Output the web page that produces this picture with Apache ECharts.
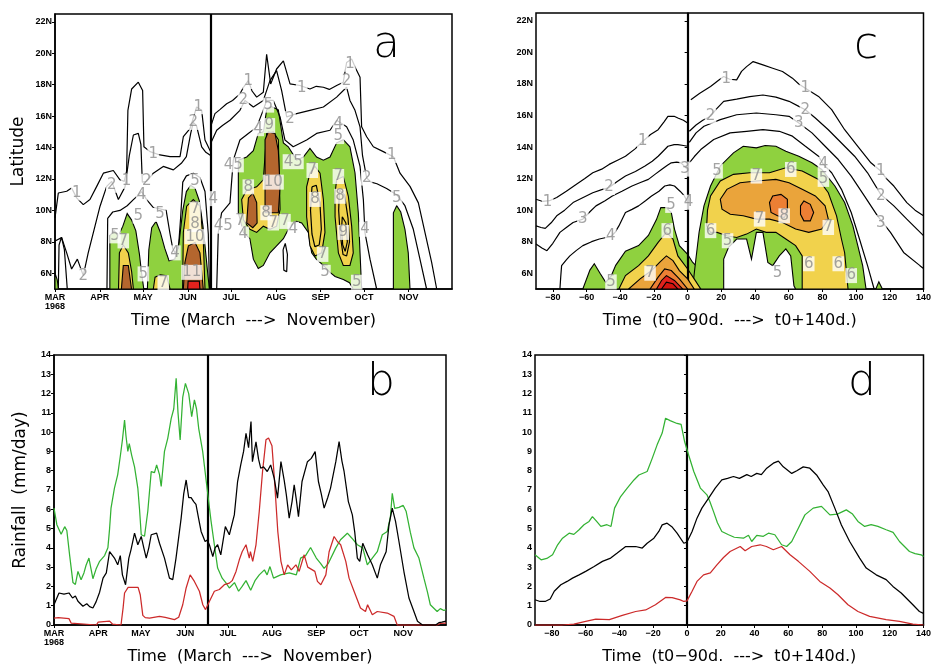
<!DOCTYPE html>
<html>
<head>
<meta charset="utf-8">
<script src="https://cdn.jsdelivr.net/npm/echarts@6/dist/echarts.min.js"></script>
<style>
html,body{margin:0;padding:0;background:#fff}
#main{width:934px;height:668px}
</style>
</head>
<body>
<div id="main"></div>
<script>
// ---------- axes ----------
const monthTicks = [0, 31, 61, 92, 122, 153, 184, 214, 245];      // days after 1 March
const monthNames = ['MAR\n1968', 'APR', 'MAY', 'JUN', 'JUL', 'AUG', 'SEP', 'OCT', 'NOV'];
const lagTicks = [-80, -60, -40, -20, 0, 20, 40, 60, 80, 100, 120, 140];
const latTicks = [6, 8, 10, 12, 14, 16, 18, 20, 22];
const onsetDay = 107.8;   // onset (16 June) in days after 1 March
const onsetLag = 0;

// ---------- panel b : daily rainfall 1968 [day, mm/day] ----------
const bGreen = [[0,6.06],[2,5.2],[5,4.7],[7.5,5.1],[9,4.9],[11,3.6],[13.3,2.2],[15,2.1],[16.8,2.78],[19,2.35],[21,2.7],[22.5,3.1],[24.5,3.47],[26,2.9],[27.3,2.4],[29.5,2.9],[32,3.3],[35.5,3.6],[37.8,4.0],[39,5.0],[40,6.06],[42.4,7.1],[44.7,7.8],[46.6,8.8],[48,9.6],[49.5,10.63],[50.5,9.8],[51.8,9.0],[52.8,9.4],[54.5,8.8],[56.5,8.2],[58.8,7.1],[60,6.0],[61.2,4.68],[63.5,4.6],[65.8,5.9],[68.2,7.95],[70.5,7.9],[72,8.3],[74,7.8],[75.2,7.18],[77.5,9.0],[79.8,9.68],[82.2,10.7],[84,11.2],[85.7,12.79],[87,11.0],[88.5,9.6],[90.3,11.8],[92.2,12.53],[94.5,12.0],[96.6,10.8],[98.5,11.67],[100,11.2],[101.5,10.2],[104.3,9.0],[107.1,7.27],[110.2,5.37],[112.5,4.16],[114.8,2.95],[118,2.43],[120.5,2.2],[123,1.92],[126.6,2.2],[129.5,1.75],[132,2.0],[134.7,2.3],[138,1.8],[141,2.3],[144,2.6],[147.6,2.86],[149.5,2.6],[151.5,3.03],[154,2.43],[159,2.6],[165,2.7],[170,2.6],[173,3.47],[176.5,3.6],[180,4.02],[184,3.47],[187,3.2],[189.5,2.94],[192.5,3.2],[197.7,4.0],[201,4.42],[205.8,4.76],[209,4.5],[212.8,4.16],[216.6,4.0],[219.8,3.12],[223.3,3.47],[226.8,3.8],[230.3,4.68],[233.8,4.85],[236,5.6],[237.3,6.83],[239,6.05],[242,6.1],[245,6.2],[247,5.9],[250,4.8],[252.5,4.0],[256,3.47],[259.5,2.43],[262,1.7],[264,1.05],[268.8,0.7],[271,0.85],[273.5,0.75],[275,0.8]];
const bBlack = [[0,1.05],[2,1.4],[3.5,1.66],[7,1.6],[10.5,1.66],[13,1.4],[15,1.5],[16.8,1.23],[20.3,0.97],[23,1.1],[25,0.95],[27.3,0.88],[29.5,1.2],[32,1.7],[34.4,2.43],[36.7,2.7],[39,3.81],[42.4,3.47],[44.7,3.12],[46.5,3.6],[48,2.6],[50.2,2.09],[52.5,3.47],[54,3.9],[56.5,4.76],[58.8,4.16],[61.2,4.59],[63,4.0],[64.7,3.47],[66.5,4.0],[68.2,4.68],[72,4.76],[74,4.24],[77.5,3.47],[81,2.43],[83.3,2.35],[85.6,3.47],[89.2,5.54],[91,6.8],[92.7,7.52],[94.5,6.6],[96.2,6.6],[98,6.4],[99.6,6.25],[101.5,5.5],[103.2,4.85],[106,4.33],[107.5,4.4],[109,4.16],[111.4,3.55],[113,4.0],[114.8,4.16],[117,3.64],[120.2,5.1],[123,4.68],[126.5,5.71],[128.8,7.44],[131,8.3],[133,9.0],[134.7,9.94],[136.5,9.2],[138.2,10.55],[139.2,8.47],[141.7,9.5],[143.5,8.6],[145,8.13],[147,8.2],[149.6,7.96],[152,8.3],[154.5,7.6],[156.8,6.58],[159.2,8.47],[161.5,7.5],[163,6.75],[165,5.54],[167,6.4],[168.5,7.27],[170,6.5],[171.5,5.62],[174,7.44],[177.8,8.47],[180.5,8.64],[183.2,8.99],[185.5,7.44],[187.5,6.8],[189.5,6.06],[192,6.6],[194,7.1],[197.7,8.47],[200,9.51],[202,8.5],[203.5,7.96],[206.5,6.4],[209.3,5.71],[211,4.8],[212.8,3.47],[214.5,3.3],[216.6,4.24],[220,3.64],[223.3,3.12],[226.8,2.43],[229,3.12],[233,3.8],[235,5.19],[237.3,6.06],[239.6,5.37],[242,4.33],[245.5,2.76],[249,1.4],[252.5,0.7],[255,0.19],[258.5,0],[267.7,0],[270,0.12],[272,0.15],[275,0.2]];
const bRed = [[0,0.36],[3,0.38],[10.5,0.33],[12,0.1],[13,0],[29.7,0],[31,0.15],[32,0.2],[39,0.2],[41,0.05],[42,0],[47,0],[48.5,0.9],[49.5,1.66],[52,1.95],[59,1.95],[60.5,1.57],[62.3,0.5],[64,0.38],[67,0.36],[74,0.45],[78,0.4],[84.5,0.28],[87.5,0.4],[90.3,1.05],[92.7,1.92],[95.5,2.6],[98.5,2.26],[102,1.75],[104.4,1.05],[106.3,0.8],[109,1.22],[112.5,1.75],[116,1.84],[119.5,2.09],[123,2.17],[125,2.3],[127.7,2.78],[130,3.38],[132,3.8],[134.7,4.16],[137,3.47],[137.8,3.8],[139.4,3.3],[141.7,4.16],[144,5.9],[146.3,7.96],[148.7,9.6],[150.5,9.7],[152.9,9.3],[154.6,7.6],[157,4.85],[159.2,3.3],[161.5,2.6],[163.9,3.12],[166.5,2.86],[169.7,3.12],[172,2.78],[175.5,3.64],[178,3.0],[183,2.78],[184.8,2.26],[187.2,2.09],[190.7,2.6],[193,3.8],[196.5,4.59],[198.8,4.33],[201.1,4.16],[204.7,3.3],[207,2.43],[210.5,1.75],[215,0.88],[218.5,0.7],[220,1.05],[223.3,0.53],[226.8,0.7],[233.8,0.62],[238.5,0.45],[240.8,0],[268.8,0],[271,0.08],[275,0.1]];

// ---------- panel d : composite relative to onset [lag day, mm/day] ----------
const dGreen = [[-90,3.64],[-86.4,3.38],[-83,3.45],[-79.6,3.64],[-76.6,4.16],[-73.7,4.5],[-69.8,4.76],[-67,4.7],[-63.9,4.94],[-61,5.2],[-58,5.37],[-56,5.62],[-53.5,5.37],[-51,5.11],[-47.4,5.2],[-45,5.11],[-42.9,6.06],[-39.3,6.66],[-35.4,7.1],[-31.4,7.52],[-28.5,7.78],[-23.6,7.96],[-20.6,8.64],[-17.7,9.34],[-14.7,9.95],[-12.7,10.72],[-10,10.6],[-5.9,10.45],[-3.5,10.4],[-1.4,9.5],[1,8.8],[4,7.96],[7.9,7.1],[11.8,6.75],[13.5,6.4],[15.7,5.88],[18,5.3],[20.6,4.85],[24.6,4.68],[28,4.55],[33.4,4.5],[36.4,4.65],[38.3,4.33],[41.3,4.65],[45.2,4.6],[48.2,4.76],[52,4.68],[56,4.16],[59,4.07],[62,4.33],[65.9,5.02],[69.8,5.71],[74.7,6.06],[79.6,6.15],[84.6,5.71],[89,5.75],[94.3,5.97],[98,5.75],[101.2,5.37],[105.2,5.11],[109,5.2],[113,5.11],[117.9,4.94],[122,4.8],[125.8,4.33],[131.7,3.81],[135,3.7],[138.6,3.64],[140,3.55]];
const dBlack = [[-90,1.31],[-87,1.22],[-84,1.22],[-81,1.35],[-78.6,1.75],[-74.7,2.09],[-71,2.26],[-67.8,2.43],[-63.9,2.6],[-60,2.78],[-55,3.03],[-50.1,3.3],[-45.2,3.47],[-41.3,3.73],[-36.3,4.07],[-30.4,4.07],[-26.5,3.99],[-23.6,4.24],[-19.6,4.5],[-16.7,4.85],[-14.7,5.19],[-11.8,5.28],[-9,5.1],[-5.9,4.76],[-1.9,4.24],[0,4.3],[3,4.85],[5.9,5.54],[8.8,6.06],[12.8,6.58],[16.7,7.1],[20.6,7.52],[24,7.6],[27.5,7.7],[31,7.6],[35.4,7.8],[38,7.7],[41.3,7.86],[44,7.8],[47.2,8.13],[51.1,8.39],[54.1,8.5],[57,8.2],[62,7.86],[65,8.0],[68.8,8.2],[72.7,8.13],[76.7,7.78],[80.6,7.27],[83.5,6.92],[87.5,6.06],[91.4,5.19],[96.3,4.33],[102.2,3.47],[106.1,2.95],[112,2.6],[117.9,2.35],[121.9,2.0],[126.8,1.66],[132.7,1.14],[137.6,0.7],[140,0.6]];
const dRed = [[-90,0],[-73.7,0],[-67,0.05],[-60,0.19],[-54,0.3],[-46,0.28],[-38.3,0.5],[-30.4,0.7],[-24.5,0.78],[-18.7,1.05],[-12.7,1.43],[-8.8,1.42],[-4,1.3],[-1.9,1.22],[0,1.25],[3,1.75],[5.9,2.26],[9.8,2.6],[13.8,2.7],[17.7,3.12],[21.6,3.5],[25.5,3.81],[31.5,4.07],[34.4,3.85],[38.3,4.07],[43.3,4.16],[47,4.07],[51.1,3.9],[56,4.07],[61,3.64],[65.9,3.3],[72.7,2.78],[78.6,2.26],[84.6,1.92],[89.4,1.57],[95.3,1.05],[101.2,0.7],[108.1,0.45],[117.9,0.28],[125.8,0.19],[133.7,0.05],[140,0]];

// ---------- panel a : 1968 rainfall contours [day, latitude] ----------
const aGreenApr = [[38,5],[38,8.4],[41,8.7],[44,8.4],[47,9.0],[50,9.8],[53,9.4],[56,8.7],[58.5,7.2],[60,6.0],[61.5,5],[64,5],[65,7.5],[67,8.9],[70,9.3],[73,8.6],[76,7.6],[79,6.8],[83,6.9],[86,8.0],[88.5,10.0],[91,11.2],[94,11.6],[97,11.4],[100,10.6],[102.5,9.0],[104.5,7.2],[106,5.8],[107,5]];
const aGreenJul = [[127,13.2],[132.8,13.4],[137.4,13.8],[140.8,14.9],[144.3,15.0],[146.6,16.4],[150,16.6],[154.7,16.4],[158.2,14.3],[161.6,14.05],[167.4,13.2],[172,13.4],[176.6,13.95],[181.2,13.4],[185.9,13.2],[190.5,13.4],[195.1,14.3],[199.7,14.5],[204.3,14.05],[207.8,12.4],[210.1,9.85],[211.3,7.3],[212.4,5],[206.6,5],[204,5.4],[199.7,5.6],[194,5.8],[190.5,6.06],[185.9,6.5],[181,6.9],[177.8,7.3],[175.5,8.6],[170.9,9.2],[167.4,9.3],[162.8,9.0],[158.2,8.2],[153.5,7.75],[148.9,7.3],[144.3,6.5],[140.8,6.3],[137.4,6.9],[135,8.2],[130.5,8.6],[127,9.85]];
const aGreenNov = [[234.4,5],[234.4,9.85],[236.7,10.3],[239.5,9.9],[242.4,8.8],[244.7,7.3],[245.9,5]];
const aGreenMar = [[0,5],[0,6.0],[1.5,5.6],[2.5,5]];
const aYellowMay = [[44,5],[44.6,7.3],[47.3,7.8],[50.8,7.3],[53.1,6.1],[54.3,5]];
const aYellowLateMay = [[68.1,5],[69.3,5.75],[73,5.9],[77.3,5.85],[79.7,5]];
const aYellowJun = [[88.4,5],[88.9,8.6],[91.2,10.27],[95.8,10.69],[100.4,10.27],[102.7,8.17],[103.9,5]];
const aYellowJul = [[129.3,10.7],[132.8,11.3],[139.7,11.5],[144.3,11.95],[146.6,14.9],[151.2,15.0],[154.7,14.5],[155.9,10.06],[153.5,9.0],[148.9,8.8],[144.3,9.0],[139.7,8.6],[135,8.8],[130.5,9.4]];
const aYellowSep = [[176.6,12.37],[180.1,12.8],[183.6,12.37],[185.9,10.7],[187,8.6],[184.7,7.3],[180.1,7.1],[176.6,7.75],[174.3,9.6],[174.3,11.5]];
const aYellowLateSep = [[195.1,11.95],[199.7,12.16],[203.2,10.9],[205.5,9.0],[206.6,7.3],[204.3,6.5],[199.7,6.5],[196.3,7.3],[194,9.6],[194,11.1]];
const aBrownMay = [[46,5],[47.3,6.5],[50.8,6.5],[53,5]];
const aBrownJun = [[88.9,5],[90,6.7],[92.4,7.75],[97,7.96],[100.4,7.3],[102.7,5]];
const aBrownJul = [[132.8,9.2],[134,10.8],[137,11.1],[139.7,10.5],[140,9.2],[137,8.9]];
const aBrownAug = [[145.5,9.85],[145.5,14.5],[147.8,15.0],[152.4,14.9],[154.7,13.8],[155.9,11.5],[154.7,9.85]];
const aRedJun = [[91.9,5],[92.2,5.5],[100,5.5],[100.4,5]];
const aRing8Sep = [[178,11.5],[181,11.6],[183.5,10.5],[184.5,8.8],[183,7.8],[180,7.7],[178,8.5],[177,10]];
const aRing8LateSep = [[197,11.3],[200.5,11.0],[203,9.5],[204,8],[202,7.1],[199.5,7.2],[197.5,8.5],[196.5,10]];
const aRing9LateSep = [[199,9.6],[201.5,9.2],[202.5,8.0],[201,7.4],[199.3,7.8],[198.5,8.8]];
const aLoopAug = [[158,7.5],[159.5,7.9],[161,7.2],[160.5,6.1],[158.5,6.2]];
const aC1pre = [[0,9.53],[2.3,11.11],[8.1,11.22],[11.5,11.43],[15,10.8],[19.6,10.37],[24.2,10.69],[28.9,11.53],[33.5,12.37],[40.4,12.54],[45,11.95],[48,11.85],[49.6,12.5],[50.5,16.37],[53.1,17.73],[57.7,18.16],[60.7,17.63],[61.6,14.05],[65.8,13.74],[72.7,13.53],[79.7,13.42],[86.6,13.42],[88.9,14.69],[93.5,15.21],[98.1,16.58],[101.6,16.37],[103.9,14.48],[107.8,13.74]];
const aC2pre = [[0,8.05],[4.6,8.27],[8.1,7.3],[11.5,6.27],[15.5,6.9],[19.6,5.85],[23,7.3],[27.7,9.0],[31.2,10.27],[35.8,11.53],[39.3,11.85],[43.9,10.7],[48.5,11.5],[51.5,13.5],[54.3,14.8],[57.7,14.9],[59.5,14.2],[60.5,11.8],[63.5,11.85],[68.1,12.37],[75,12.8],[82,12.58],[87.5,13.0],[91,13.42],[94,14.9],[95.8,15.6],[98,15.4],[101.6,14.05],[104.5,13.7],[107.8,13.5]];
const aC4pre = [[36,5],[36.5,9.5],[40,9.9],[45,10.0],[50,10.3],[54.3,10.69],[58,11.0],[60,11.2],[63.5,10.69],[68,10.2],[72.7,10.1],[77,10.0],[79.7,8.5],[81.5,7.6],[83.1,7.3],[85.5,7.6],[87,9.5],[88.5,11.8],[91,12.2],[95.8,12.37],[100.4,12.1],[103.9,11.2],[106.2,8.5],[107,5]];
const aC1low = [[2.3,5],[2.8,7.8],[4.5,8.3],[6.5,7.5],[8.5,5]];
const aC1post = [[107.8,15.32],[110.8,16.16],[114,16.4],[118.9,16.79],[123,17.0],[128.1,17.42],[131,17.9],[133.9,18.26],[136.5,17.6],[139.7,17.21],[144.3,17.52],[146.6,19.94],[149.4,18.05],[153.5,19.0],[158.2,19.52],[162.8,18.05],[169.7,17.95],[176.6,17.73],[181,17.9],[185.9,17.84],[190,17.7],[195.1,17.95],[199.7,18.16],[202,19.42],[205.5,19.63],[208.5,19.0],[211.3,18.47],[212.4,15.32],[215.9,14.69],[220.5,14.05],[227.4,13.74],[234.4,13.42],[239,12.37],[245.9,11.53],[251.7,10.48],[256.3,8.59],[260.9,6.69],[264.4,5]];
const aC2post = [[107.8,14.26],[112,15.1],[116,15.4],[121.2,15.74],[128.1,16.37],[131.6,17.0],[137.4,16.58],[144.3,17.0],[148.9,18.26],[153.5,18.9],[157,17.63],[160.5,15.95],[167.4,16.16],[176.6,16.37],[185.9,16.58],[195.1,17.21],[202,17.84],[204.3,17.0],[207.8,16.37],[211.3,15.32],[213,13.5],[215.9,12.06],[219,11.8],[223,11.7],[229.7,11.4],[236.7,11.0],[242.4,10.3],[248.2,8.8],[252.8,6.9],[257.4,5]];
const aC4post = [[112,5],[113.1,8.6],[115.4,9.85],[121.2,10.48],[123.5,13.2],[128.1,14.48],[133.9,14.9],[139.7,15.3],[144.3,16.4],[146.6,17.0],[151.2,17.0],[155.9,15.95],[159.3,14.48],[165,14.05],[174.3,14.48],[181.2,14.9],[190.5,15.1],[195.1,15.74],[202,15.32],[206.6,14.48],[211.3,12.8],[213.6,10.69],[214.7,8.59],[218.2,6.9],[222.8,5]];
const aLabels = [[15,11.1,'1'],[39.3,11.6,'2'],[49.6,11.85,'1'],[63.5,11.85,'2'],[60,11.0,'4'],[57.7,9.64,'5'],[72.7,9.74,'5'],[41.6,8.38,'5'],[47.3,8.06,'7'],[61.2,5.96,'5'],[75,5.4,'7'],[83.1,7.3,'4'],[97,11.85,'5'],[97,10.06,'7'],[97,9.1,'8'],[97,8.33,'10'],[94.7,6.06,'11'],[68,13.6,'1'],[99.3,16.6,'1'],[95.8,15.6,'2'],[19.6,5.85,'2'],[109.7,10.75,'4'],[116.6,9.0,'45'],[123.5,12.9,'45'],[128.1,9.3,'7'],[130.5,8.5,'4'],[133.9,11.5,'8'],[140.8,15.2,'4'],[148.5,15.4,'9'],[147.8,16.7,'5'],[151.2,11.8,'10'],[146.2,9.85,'8'],[151.2,9.2,'7'],[159.3,9.3,'7'],[165,8.8,'4'],[170.9,17.8,'1'],[133.9,18.2,'1'],[130.5,17.0,'2'],[162.8,15.84,'2'],[165,13.1,'45'],[178.2,12.54,'7'],[180.1,10.7,'8'],[185.4,7.2,'7'],[187,6.06,'5'],[196.3,12.16,'7'],[197.4,10.9,'8'],[199.7,8.6,'9'],[196.3,15.5,'4'],[196.3,14.7,'5'],[204.3,19.3,'1'],[202,18.2,'2'],[214.7,8.8,'4'],[209,5.43,'5'],[215.9,12.06,'2'],[233.2,13.5,'1'],[236.7,10.8,'5']];

// ---------- panel c : composite contours relative to onset [lag day, latitude] ----------
const cGreenL = [[-62.2,5],[-58,6.2],[-55.4,6.6],[-52,6.0],[-48.6,5.43],[-45.5,5.8],[-42.7,6.5],[-36.9,7.4],[-29.1,7.75],[-23.3,8.4],[-18.5,9.4],[-15.9,10.16],[-12.6,10.16],[-9.7,9.85],[-7.8,8.8],[-4.9,7.75],[0,7.2],[2.9,6.7],[6.8,6.27],[11.7,5.64],[15,5.2],[19,5]];
const cYellowL = [[-40.8,5],[-36.9,5.85],[-29.1,6.48],[-23.3,7.1],[-17.5,7.96],[-12.6,8.6],[-8.7,8.17],[-5.8,7.1],[0,6.27],[3.9,5.64],[7.8,5]];
const cOrangeL = [[-35,5],[-28.2,5.64],[-21.4,6.17],[-16.5,6.7],[-12.6,7.1],[-8.7,6.8],[-4.9,6.17],[0,5.64],[3.9,5]];
const cDarkL = [[-22.3,5],[-17.5,5.75],[-13.6,6.27],[-9.7,6.17],[-4.9,5.64],[0,5]];
const cRedL = [[-18.5,5],[-15.5,5.54],[-12.6,5.85],[-7.8,5.54],[-2.9,5]];
const cRed2L = [[-15.5,5],[-12.6,5.43],[-8.7,5.33],[-5.8,5]];
const cGreenR = [[2.9,5],[4.9,6.9],[6.8,8.6],[9.7,10.27],[13.6,11.53],[19.4,12.8],[27.2,13.63],[33,14.05],[40.8,13.95],[46,14.1],[52.4,14.05],[58.3,13.74],[66,13.42],[73.8,13.0],[79.6,12.58],[87.4,11.53],[93.2,10.48],[98.1,9.0],[101,7.75],[103.9,6.48],[105.9,5]];
const cGapR = [[21.4,5],[21.4,6.9],[24.3,7.64],[29.1,8.17],[35,8.17],[37.9,6.9],[40.8,8.59],[44.7,8.59],[47.6,6.69],[50.5,6.48],[54.4,7.1],[58.3,7.54],[61.2,7.1],[63.1,5.2],[64.1,5]];
const cYellowR = [[11.3,9.0],[11.8,10.0],[13.6,10.9],[19.4,11.85],[27.2,12.27],[36.9,12.37],[48.6,12.37],[58.3,12.69],[68,12.48],[77.7,11.95],[83.5,11.1],[88.4,9.64],[91.3,8.17],[93.2,7.3],[95.2,5],[68,5],[68,7.1],[64.1,7.75],[58.3,8.17],[52.4,8.59],[46.6,8.59],[40.8,8.8],[35,8.48],[29.1,8.27],[23.3,8.38],[17.5,8.59],[13.6,8.59]];
const cOrangeR = [[19.4,10.69],[23.3,11.32],[31.1,11.74],[40.8,11.85],[52.4,11.95],[60.2,11.74],[68,11.32],[75.8,10.9],[81.6,10.27],[83.5,9.43],[79.6,8.8],[71.9,8.59],[64.1,8.8],[56.3,9.22],[48.6,9.43],[40.8,9.43],[33,9.64],[25.3,9.74],[20.4,10.06]];
const cDark1R = [[48.6,10.48],[50.5,10.9],[55.4,11.0],[59.2,10.69],[59.2,9.85],[57.3,9.53],[53.4,9.64],[49.5,9.85]];
const cDark2R = [[67,10.27],[69,10.58],[72.8,10.37],[74.8,9.85],[72.8,9.32],[69,9.32],[67,9.74]];
const cGreenBump = [[111.7,5],[113.5,5.45],[115.6,5]];
const c1pre = [[-90,10.69],[-86,10.55],[-82,10.6],[-77.7,10.8],[-72,11.2],[-66,11.64],[-61,12.0],[-56.3,12.37],[-51,12.6],[-46.6,12.9],[-41,13.2],[-36.9,13.42],[-31,13.9],[-26.6,14.37],[-22,14.8],[-17.5,15.1],[-14,15.6],[-11.7,15.95],[-8,15.95],[-5.8,15.84],[-2.5,15.7],[0,15.53]];
const c2pre = [[-90,9.0],[-87,8.9],[-84.5,8.84],[-81,9.2],[-77.7,9.64],[-73,10.0],[-68,10.48],[-62,10.8],[-56.3,11.1],[-51,11.3],[-46.6,11.43],[-42,11.8],[-36.9,12.16],[-31,12.45],[-25.3,12.8],[-21,13.1],[-17.5,13.42],[-14,13.8],[-11.7,14.05],[-8,14.15],[-5.8,14.16],[-2.5,14.1],[0,14.05]];
const c3pre = [[-90,7.85],[-86.5,7.6],[-83.5,7.43],[-80,7.9],[-75.8,8.59],[-72,8.9],[-68,9.22],[-62.2,9.43],[-58,9.9],[-54.4,10.27],[-49,10.6],[-44.7,10.9],[-39,11.2],[-33,11.53],[-28,11.75],[-23.3,11.95],[-19,12.3],[-15.5,12.58],[-12,12.85],[-9.7,13.0],[-6.5,13.05],[-3.9,13.0],[0,12.58]];
const c4pre = [[-75.8,5],[-75.3,5.8],[-74.8,6.48],[-72,6.85],[-69.9,7.1],[-66,7.45],[-62.2,7.75],[-57,8.0],[-52.4,8.17],[-45.6,8.33],[-43,8.6],[-40.8,9.0],[-38.5,9.5],[-36.9,9.85],[-33,10.05],[-29.1,10.27],[-25,10.6],[-21.4,10.9],[-17,11.2],[-13.6,11.53],[-10.5,11.6],[-7.8,11.53],[-4.5,11.2],[-1.9,10.9],[0,10.48]];
const c1post = [[1.9,17.0],[7,17.4],[13.6,17.84],[18,18.2],[21.4,18.47],[25,18.3],[29.1,18.26],[32,18.8],[35,19.1],[38.9,19.42],[44.7,19.21],[50.5,19.0],[56.3,18.79],[62.2,18.37],[66,18.0],[69.9,17.73],[77.7,17.21],[85.5,16.37],[93.2,15.1],[101,14.05],[108.8,13.0],[114.6,12.48],[118,12.0],[122.4,11.53],[130.1,10.48],[135,10.0],[140,9.64]];
const c2post = [[1,15.0],[5,15.4],[9,15.7],[13.6,15.95],[17,16.4],[21.4,16.9],[29.1,17.04],[36.9,17.2],[44.7,17.3],[52.4,17.17],[60.2,16.9],[66,16.58],[69.9,16.37],[75.8,15.84],[83.5,15.1],[91.3,14.26],[99.1,13.42],[106.8,12.37],[114.6,11.0],[122.4,10.27],[130.1,9.43],[140,8.38]];
const c3post = [[1,14.3],[5,14.9],[9.7,15.32],[19.4,15.74],[29.1,16.05],[40.8,16.16],[52.4,16.05],[60.2,15.95],[66,15.53],[73.8,14.9],[81.6,14.05],[89.4,13.21],[97.1,12.16],[104.9,10.9],[112.7,9.64],[120.4,8.59],[128.2,7.32],[137.9,6.48],[140,6.3]];
const c4post = [[1,13.0],[4,13.4],[7.8,13.84],[15.5,14.48],[25.2,14.9],[35,15.0],[44.7,15.1],[54.4,15.0],[62.2,14.69],[69.9,14.05],[77.7,13.42],[80.6,12.9],[85.5,12.37],[91.3,11.32],[97.1,9.85],[102,8.17],[106.8,6.48],[110.7,5]];
const cLabels = [[-83.1,10.5,'1'],[-26.6,14.37,'1'],[-46.6,11.43,'2'],[-62.2,9.43,'3'],[-45.6,8.33,'4'],[-9.9,10.3,'5'],[-12.1,8.7,'6'],[-22.3,6.0,'7'],[-45.5,5.45,'5'],[-1.5,12.6,'3'],[0.5,10.5,'4'],[23,18.3,'1'],[69.9,17.73,'1'],[114.6,12.48,'1'],[13.6,15.95,'2'],[69.9,16.37,'2'],[114.6,10.9,'2'],[66,15.5,'3'],[114.6,9.2,'3'],[80.6,12.9,'4'],[17.5,12.48,'5'],[80.6,11.95,'5'],[61.2,12.58,'6'],[40.8,12.16,'7'],[42.7,9.43,'7'],[57.3,9.64,'8'],[83.5,8.9,'7'],[13.6,8.7,'6'],[23.7,8.06,'5'],[71.9,6.6,'6'],[53.4,6.0,'5'],[89.4,6.6,'6'],[97.1,5.85,'6']];

// ---------- colours ----------
const GREEN = '#8fd13f', YELLOW = '#f1d24c', ORANGE = '#eaa43b', DARKORANGE = '#ec7f34',
      RED = '#e2221d', BROWN = '#b4662e', WHITE = '#ffffff';
const TICK_FONT = "'Liberation Sans Narrow','Arial Narrow','Liberation Sans',sans-serif";
const TEXT_FONT = "'DejaVu Sans','Liberation Sans',sans-serif";

// ---------- series helpers ----------
function fill(g, pts, color, z) {
  return {
    type: 'custom', xAxisIndex: g, yAxisIndex: g, z: z, silent: true, clip: true,
    data: pts,
    renderItem: function (params, api) {
      if (params.dataIndex !== 0) return null;
      return {
        type: 'polygon',
        shape: { points: pts.map(function (p) { return api.coord(p); }) },
        style: { fill: color, stroke: '#000', lineWidth: 1.1 }
      };
    }
  };
}
function contour(g, pts, closed) {
  return {
    type: 'line', xAxisIndex: g, yAxisIndex: g, z: 6, silent: true, showSymbol: false,
    data: closed ? pts.concat([pts[0]]) : pts,
    lineStyle: { color: '#000', width: 1.2 }
  };
}
function labels(g, list) {
  return {
    type: 'scatter', xAxisIndex: g, yAxisIndex: g, z: 12, silent: true, symbolSize: 1,
    itemStyle: { color: 'rgba(0,0,0,0)' }, data: list,
    label: {
      show: true, position: 'inside', formatter: function (p) { return p.value[2]; },
      color: '#8c8c8c', fontSize: 15, fontFamily: TEXT_FONT,
      backgroundColor: '#fff', padding: [0, 1, 0, 1], lineHeight: 15
    }
  };
}
function rain(g, data, color) {
  return {
    type: 'line', xAxisIndex: g, yAxisIndex: g, z: 5, silent: true, showSymbol: false,
    data: data, lineStyle: { color: color, width: 1.25 }
  };
}
function divider(g, x) {
  return {
    type: 'line', xAxisIndex: g, yAxisIndex: g, z: 15, silent: true, showSymbol: false, data: [],
    markLine: {
      silent: true, symbol: 'none', animation: false, label: { show: false },
      lineStyle: { color: '#000', width: 2.2, type: 'solid' },
      data: [{ xAxis: x }]
    }
  };
}

// ---------- axes ----------
const tickLabel = { fontFamily: TICK_FONT, fontWeight: 'bold', fontSize: 9, color: '#000' };
function timeAxis(g) {
  return {
    type: 'value', gridIndex: g, min: 0, max: 275,
    name: 'Time  (March  --->  November)', nameLocation: 'middle', nameGap: 24,
    nameTextStyle: { fontFamily: TEXT_FONT, fontSize: 16, color: '#000' },
    axisLine: { show: true, lineStyle: { color: '#000', width: 1.5 } },
    axisTick: { show: true, customValues: monthTicks, length: 3, lineStyle: { color: '#000' } },
    axisLabel: Object.assign({}, tickLabel, {
      customValues: monthTicks, margin: 4, lineHeight: 9,
      formatter: function (v) { const i = monthTicks.indexOf(v); return i >= 0 ? monthNames[i] : ''; }
    }),
    splitLine: { show: false }
  };
}
function lagAxis(g) {
  return {
    type: 'value', gridIndex: g, min: -90, max: 140,
    name: 'Time  (t0\u221290d.  --->  t0+140d.)', nameLocation: 'middle', nameGap: 24,
    nameTextStyle: { fontFamily: TEXT_FONT, fontSize: 16, color: '#000' },
    axisLine: { show: true, lineStyle: { color: '#000', width: 1.5 } },
    axisTick: { show: true, customValues: lagTicks, length: 3, lineStyle: { color: '#000' } },
    axisLabel: Object.assign({}, tickLabel, {
      customValues: lagTicks, margin: 4,
      formatter: function (v) { return String(v).replace('-', '\u2212'); }
    }),
    splitLine: { show: false }
  };
}
function latAxis(g, title) {
  return {
    type: 'value', gridIndex: g, min: 5, max: 22.5,
    name: title, nameLocation: 'middle', nameGap: 28,
    nameTextStyle: { fontFamily: TEXT_FONT, fontSize: 17, color: '#000' },
    axisLine: { show: true, lineStyle: { color: '#000', width: 1.5 } },
    axisTick: { show: true, customValues: latTicks, length: 3, lineStyle: { color: '#000' } },
    axisLabel: Object.assign({}, tickLabel, { customValues: latTicks, margin: 3, formatter: function (v) { return v + 'N'; } }),
    splitLine: { show: false }
  };
}
function rainAxis(g, title) {
  return {
    type: 'value', gridIndex: g, min: 0, max: 14, interval: 1,
    name: title, nameLocation: 'middle', nameGap: 25,
    nameTextStyle: { fontFamily: TEXT_FONT, fontSize: 17, color: '#000' },
    axisLine: { show: true, lineStyle: { color: '#000', width: 1.5 } },
    axisTick: { show: true, length: 3, lineStyle: { color: '#000' } },
    axisLabel: Object.assign({}, tickLabel, { margin: 3 }),
    splitLine: { show: false }
  };
}

const gridStyle = { show: true, borderColor: '#000', borderWidth: 1.5, backgroundColor: 'transparent' };

const series = [
  // panel a
  fill(0, aGreenMar, GREEN, 2), fill(0, aGreenApr, GREEN, 2), fill(0, aGreenJul, GREEN, 2), fill(0, aGreenNov, GREEN, 2),
  fill(0, aYellowMay, YELLOW, 3), fill(0, aYellowLateMay, YELLOW, 3), fill(0, aYellowJun, YELLOW, 3),
  fill(0, aYellowJul, YELLOW, 3), fill(0, aYellowSep, YELLOW, 3), fill(0, aYellowLateSep, YELLOW, 3),
  fill(0, aBrownMay, BROWN, 4), fill(0, aBrownJun, BROWN, 4), fill(0, aBrownJul, BROWN, 4), fill(0, aBrownAug, BROWN, 4),
  fill(0, aRedJun, RED, 5),
  contour(0, aRing8Sep, true), contour(0, aRing8LateSep, true), contour(0, aRing9LateSep, true), contour(0, aLoopAug, true),
  contour(0, aC1pre), contour(0, aC2pre), contour(0, aC4pre), contour(0, aC1low),
  contour(0, aC1post), contour(0, aC2post), contour(0, aC4post),
  labels(0, aLabels), divider(0, onsetDay),
  // panel c
  fill(1, cGreenL, GREEN, 2), fill(1, cGreenR, GREEN, 2), fill(1, cGreenBump, GREEN, 2),
  fill(1, cGapR, WHITE, 3),
  fill(1, cYellowL, YELLOW, 4), fill(1, cYellowR, YELLOW, 4),
  fill(1, cOrangeL, ORANGE, 5), fill(1, cOrangeR, ORANGE, 5),
  fill(1, cDarkL, DARKORANGE, 6), fill(1, cDark1R, DARKORANGE, 6), fill(1, cDark2R, DARKORANGE, 6),
  fill(1, cRedL, RED, 7), fill(1, cRed2L, '#d4140f', 8),
  contour(1, c1pre), contour(1, c2pre), contour(1, c3pre), contour(1, c4pre),
  contour(1, c1post), contour(1, c2post), contour(1, c3post), contour(1, c4post),
  labels(1, cLabels), divider(1, onsetLag),
  // panel b
  rain(2, bGreen, '#33b233'), rain(2, bRed, '#cc2a2a'), rain(2, bBlack, '#000000'),
  divider(2, onsetDay),
  // panel d
  rain(3, dGreen, '#33b233'), rain(3, dRed, '#cc2a2a'), rain(3, dBlack, '#000000'),
  divider(3, onsetLag)
];

const letter = function (text, left, top) {
  return { text: text, left: left, top: top, textStyle: { fontFamily: TEXT_FONT, fontWeight: 'lighter', fontSize: 44, color: '#000' } };
};

const option = {
  animation: false,
  backgroundColor: '#fff',
  title: [letter('a', 368, 19), letter('c', 849, 20), letter('b', 362, 357), letter('d', 843, 357)],
  grid: [
    Object.assign({ left: 55, top: 14, width: 397, height: 275 }, gridStyle),
    Object.assign({ left: 536, top: 13, width: 395, height: 276 }, gridStyle),
    Object.assign({ left: 54, top: 355, width: 392, height: 270 }, gridStyle),
    Object.assign({ left: 535, top: 355, width: 391, height: 270 }, gridStyle)
  ],
  xAxis: [timeAxis(0), lagAxis(1), timeAxis(2), lagAxis(3)],
  yAxis: [latAxis(0, 'Latitude'), latAxis(1, ''), rainAxis(2, 'Rainfall  (mm/day)'), rainAxis(3, '')],
  series: series
};

const chart = echarts.init(document.getElementById('main'));
chart.setOption(option);
</script>
</body>
</html>
